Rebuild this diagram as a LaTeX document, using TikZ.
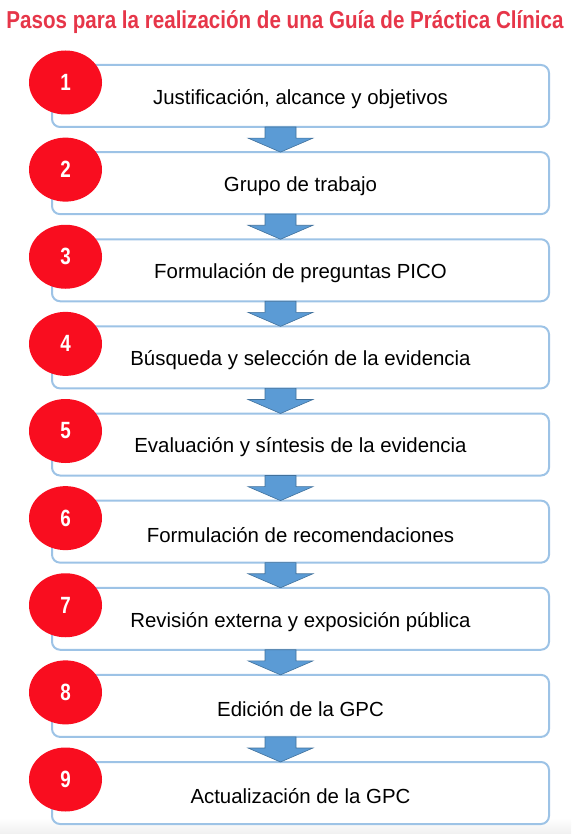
\documentclass[tikz,border=0pt]{standalone}
\usepackage{fontspec}
\setmainfont{Liberation Sans}
\usetikzlibrary{calc,shapes.geometric}
\definecolor{titlered}{HTML}{E63649}
\definecolor{stepred}{HTML}{F90D1F}
\definecolor{boxblue}{HTML}{9DC3E6}
\definecolor{arrowfill}{HTML}{5B9BD5}
\definecolor{arrowline}{HTML}{41719C}
\begin{document}
\begin{tikzpicture}[x=1pt,y=-1pt,
	stepbox/.style={draw=boxblue, line width=2pt, rounded corners=8pt, fill=white,
		minimum width=497pt, minimum height=62pt, inner sep=0pt, outer sep=0pt},
	stepnum/.style={ellipse, fill=stepred, text=white, inner sep=0pt,
		minimum width=73pt, minimum height=64pt, font=\bfseries\fontsize{23.5}{24}\selectfont},
	steptext/.style={font=\fontsize{20.4}{24}\selectfont, inner sep=0pt},
	blockarrow/.style={fill=arrowfill, draw=arrowline, line width=0.6pt}]
\useasboundingbox (0,0) rectangle (571,834);
% bottom shade
\shade[top color=white, bottom color=gray!12] (0,818) rectangle (571,834);
% title
\node (title) at (285,22) {\scalebox{0.84}[1]{\color{titlered}\bfseries\fontsize{24.5}{28}\selectfont Pasos para la realización de una Guía de Práctica Clínica}};
% the boxes
\foreach \txt [count=\i] in {{Justificación, alcance y objetivos}, Grupo de trabajo,
	Formulación de preguntas PICO, Búsqueda y selección de la evidencia,
	Evaluación y síntesis de la evidencia, Formulación de recomendaciones,
	Revisión externa y exposición pública, Edición de la GPC, Actualización de la GPC}
{
	\node[stepbox] (box\i) at (300.5, {96+(\i-1)*87.125}) {};
	\node[steptext] (txt\i) at ($(box\i.center)+(0,3)$) {\txt};
}
% arrows between the boxes
\foreach \i in {1,...,8}
{
	\pgfmathtruncatemacro{\j}{\i+1}
	\path[blockarrow] ($(box\i.south)+(-35.5,0)$) -- ($(box\i.south)+(-4.5,0)$)
		-- ($(box\j.north)+(-4.5,-14)$) -- ($(box\j.north)+(12.5,-14)$)
		-- ($(box\j.north)+(-20,0)$) -- ($(box\j.north)+(-52.5,-14)$)
		-- ($(box\j.north)+(-35.5,-14)$) -- cycle;
}
% numbers
\foreach \i in {1,...,9}
	\node[stepnum] (num\i) at ($(box\i.north west)+(13.5,17.5)$) {\scalebox{0.8}[1]{\i}};
\end{tikzpicture}
\end{document}
